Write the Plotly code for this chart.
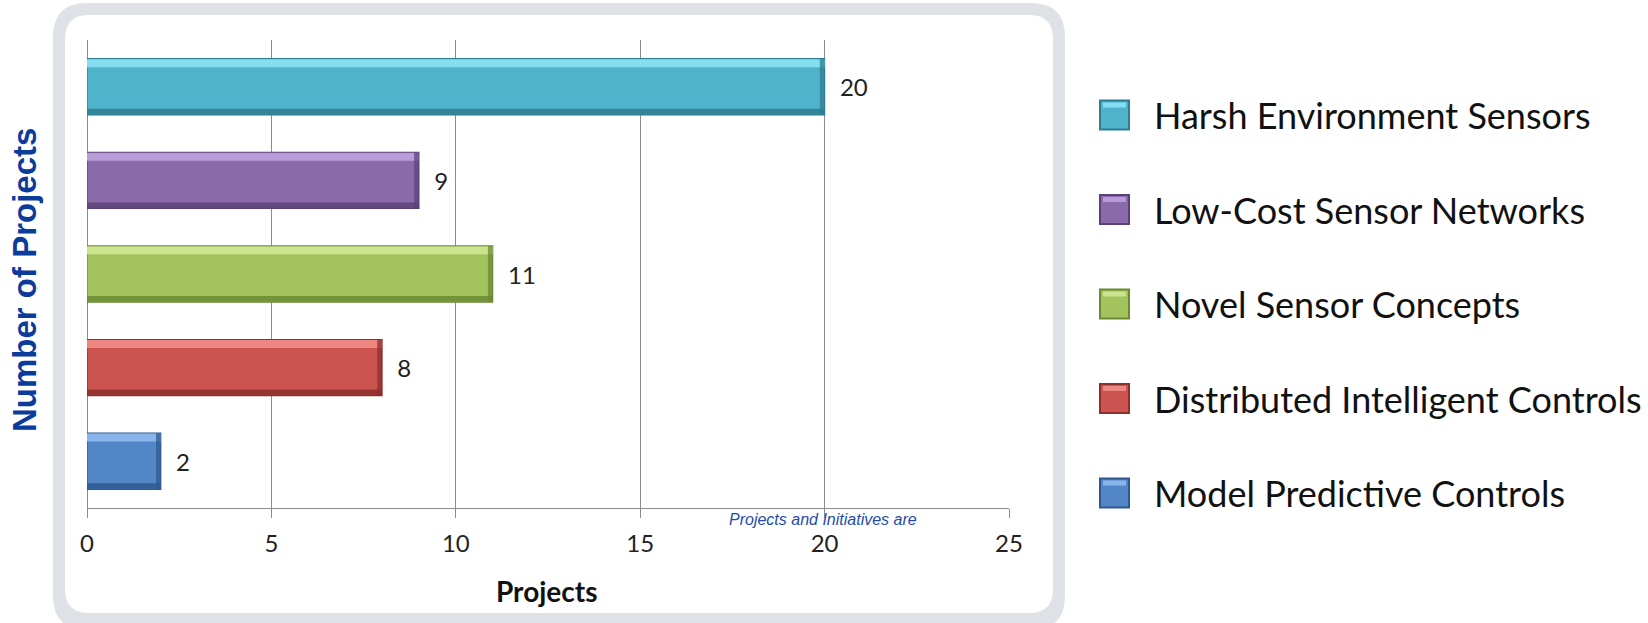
import plotly.graph_objects as go

# ---------------- data ----------------
categories = [
    "Harsh Environment Sensors",
    "Low-Cost Sensor Networks",
    "Novel Sensor Concepts",
    "Distributed Intelligent Controls",
    "Model Predictive Controls",
]
projects = [20, 9, 11, 8, 2]
x_ticks = [0, 5, 10, 15, 20, 25]

# ---------------- styles ----------------
main_colors = ["#4FB3CB", "#8A6AAA", "#A3C35E", "#CC5450", "#5386C6"]
light_colors = ["#86DEF2", "#B89CD8", "#CBE58E", "#EE8682", "#8AB5EC"]
dark_colors = ["#2E7E90", "#5B4378", "#6B8A33", "#8C2F2D", "#2E5990"]

W, H = 1648, 623
PL, PR, PT, PB = 87, 1009, 40, 508  # plot area in pixels
END_BEVEL = 0.13  # width (in x units) of the darker right-end bevel


def px2paper(x, y):
    return (x - PL) / (PR - PL), (PB - y) / (PB - PT)


def rrect_path(x0, y0, x1, y1, r):
    pts = [
        ("M", [(x0 + r, y0)]),
        ("L", [(x1 - r, y0)]),
        ("Q", [(x1, y0), (x1, y0 + r)]),
        ("L", [(x1, y1 - r)]),
        ("Q", [(x1, y1), (x1 - r, y1)]),
        ("L", [(x0 + r, y1)]),
        ("Q", [(x0, y1), (x0, y1 - r)]),
        ("L", [(x0, y0 + r)]),
        ("Q", [(x0, y0), (x0 + r, y0)]),
    ]
    s = ""
    for cmd, ps in pts:
        s += cmd + " ".join("%.5f,%.5f" % px2paper(px, py) for px, py in ps) + " "
    return s + "Z"


fig = go.Figure()

# main bars
fig.add_trace(go.Bar(
    y=categories, x=projects, orientation="h", width=0.6,
    marker=dict(color=main_colors, line=dict(color=dark_colors, width=1.2)),
    text=projects, texttemplate="\u00a0\u00a0%{x}", textposition="outside",
    textfont=dict(family="Lato, Open Sans, sans-serif", size=24, color="#222222"),
    constraintext="none", cliponaxis=False, showlegend=False, hoverinfo="x+y",
))
# top highlight (bevel)
fig.add_trace(go.Bar(
    y=categories, x=projects, orientation="h", width=0.085, offset=-0.295,
    marker=dict(color=light_colors, line=dict(width=0)),
    showlegend=False, hoverinfo="skip",
))
# bottom shadow (bevel)
fig.add_trace(go.Bar(
    y=categories, x=projects, orientation="h", width=0.06, offset=0.235,
    marker=dict(color=dark_colors, line=dict(width=0), opacity=0.85),
    showlegend=False, hoverinfo="skip",
))
# right-end shadow (bevel)
fig.add_trace(go.Bar(
    y=categories, x=[END_BEVEL] * len(projects),
    base=[v - END_BEVEL for v in projects], orientation="h", width=0.6,
    marker=dict(color=dark_colors, line=dict(width=0), opacity=0.75),
    showlegend=False, hoverinfo="skip",
))

shapes = []
# rounded panel (gray ring + white inside)
shapes.append(dict(type="path", xref="paper", yref="paper", layer="below",
                   path=rrect_path(53, 3, 1065, 630, 34),
                   fillcolor="#DEE2E7", line=dict(width=0)))
shapes.append(dict(type="path", xref="paper", yref="paper", layer="below",
                   path=rrect_path(65, 15, 1053, 613, 24),
                   fillcolor="#FFFFFF", line=dict(width=0)))

annotations = []
# manual legend
leg_x0, leg_size, leg_text_x = 1100, 29, 1152
leg_y0, leg_step = 115, 94.5
for i, name in enumerate(categories):
    cy = leg_y0 + i * leg_step
    xa, ya = px2paper(leg_x0, cy - leg_size / 2)
    xb, yb = px2paper(leg_x0 + leg_size, cy + leg_size / 2)
    shapes.append(dict(type="rect", xref="paper", yref="paper", layer="above",
                       x0=xa, x1=xb, y0=yb, y1=ya,
                       fillcolor=main_colors[i],
                       line=dict(color=dark_colors[i], width=2)))
    xh0, yh0 = px2paper(leg_x0 + 3, cy - leg_size / 2 + 2)
    xh1, yh1 = px2paper(leg_x0 + leg_size - 3, cy - leg_size / 2 + 7)
    shapes.append(dict(type="rect", xref="paper", yref="paper", layer="above",
                       x0=xh0, x1=xh1, y0=yh1, y1=yh0,
                       fillcolor=light_colors[i], line=dict(width=0)))
    tx, ty = px2paper(leg_text_x, cy)
    annotations.append(dict(x=tx, y=ty, xref="paper", yref="paper",
                            text=name, showarrow=False, xanchor="left", yanchor="middle",
                            font=dict(family="Lato, Open Sans, sans-serif", size=36, color="#111111")))

# y-axis title
tx, ty = px2paper(24, 280)
annotations.append(dict(x=tx, y=ty, xref="paper", yref="paper", text="<b>Number of Projects</b>",
                        textangle=-90, showarrow=False, xanchor="center", yanchor="middle",
                        font=dict(family="Arial, Liberation Sans, sans-serif", size=33, color="#0B3C9C")))
# x-axis title
tx, ty = px2paper(547, 591)
annotations.append(dict(x=tx, y=ty, xref="paper", yref="paper", text="<b>Projects</b>",
                        showarrow=False, xanchor="center", yanchor="middle",
                        font=dict(family="Lato, Open Sans, sans-serif", size=28, color="#111111")))
# note text
tx, ty = px2paper(823, 519)
annotations.append(dict(x=tx, y=ty, xref="paper", yref="paper", text="<i>Projects and Initiatives are</i>",
                        showarrow=False, xanchor="center", yanchor="middle",
                        font=dict(family="Arial, Liberation Sans, sans-serif", size=16, color="#1E4CAB")))

fig.update_layout(
    width=W, height=H, autosize=False,
    margin=dict(l=PL, r=W - PR, t=PT, b=H - PB, pad=0),
    paper_bgcolor="#FFFFFF", plot_bgcolor="rgba(0,0,0,0)",
    barmode="overlay", showlegend=False,
    shapes=shapes, annotations=annotations,
    xaxis=dict(range=[0, 25], tickvals=x_ticks, ticktext=[str(t) for t in x_ticks],
               showgrid=True, gridcolor="#8C8C8C", gridwidth=1,
               zeroline=True, zerolinecolor="#8C8C8C", zerolinewidth=1,
               showline=True, linecolor="#8C8C8C", linewidth=1,
               ticks="outside", ticklen=9, tickcolor="#8C8C8C", ticklabelstandoff=5,
               tickfont=dict(family="Lato, Open Sans, sans-serif", size=24, color="#222222")),
    yaxis=dict(type="category", categoryorder="array", categoryarray=categories,
               autorange="reversed", showticklabels=False, showgrid=False,
               showline=False, zeroline=False, ticks=""),
)

fig.write_html("out.html")
